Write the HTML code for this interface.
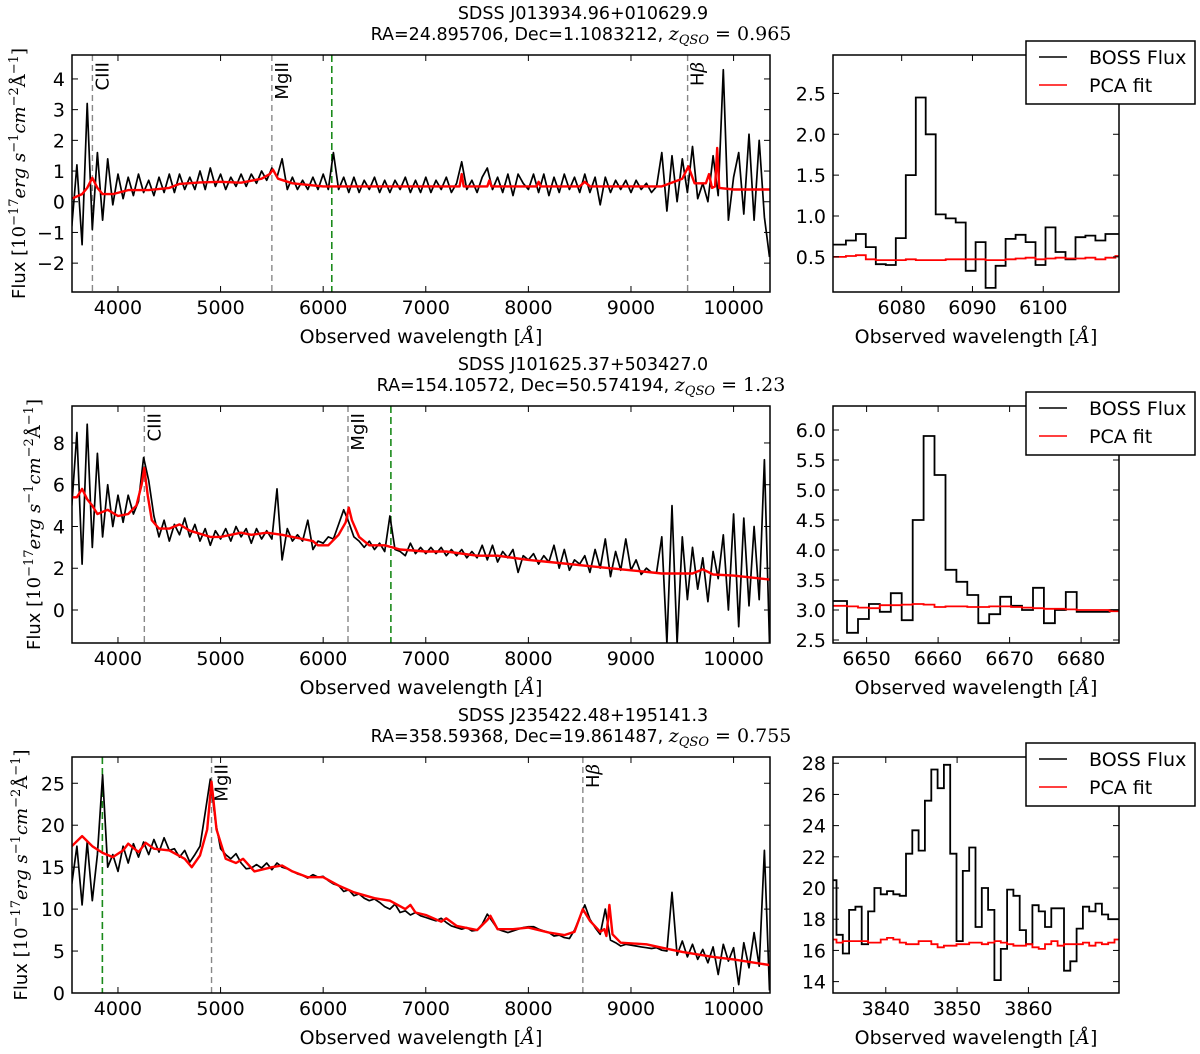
<!DOCTYPE html>
<html><head><meta charset="utf-8"><style>
body{margin:0;background:#fff}
svg text{font-family:"DejaVu Sans","Liberation Sans",sans-serif}
.sf{font-family:"DejaVu Serif","Liberation Serif",serif}
</style></head><body>
<svg id="fig" xmlns="http://www.w3.org/2000/svg" width="1200" height="1049" viewBox="0 0 1200 1049"></svg>
<script>
// ---------- data ----------
const gridStart = 3550, gridStep = 50;
const p1Black = [-0.8,1.2,-1.4,3.2,-0.9,1.6,-0.6,1.4,-0.1,0.9,
0.1,0.8,0.2,0.9,0.3,0.7,0.2,0.8,0.3,0.9,
0.3,0.9,0.4,0.8,0.4,1.0,0.4,1.1,0.5,0.9,
0.4,0.8,0.5,0.9,0.5,0.9,0.6,1.0,0.7,1.1,
0.8,1.4,0.4,0.8,0.4,0.7,0.4,0.8,0.4,0.9,
0.4,1.6,0.4,0.8,0.3,0.8,0.3,0.7,0.4,0.8,
0.3,0.7,0.3,0.7,0.4,0.8,0.3,0.7,0.3,0.8,
0.3,0.7,0.4,0.8,0.3,0.6,1.3,0.4,0.7,0.3,
0.8,1.1,0.4,0.8,0.3,0.9,0.2,0.9,0.6,0.4,
0.9,0.3,0.9,0.2,0.8,0.3,0.9,0.4,0.8,0.3,
0.9,0.3,0.8,-0.1,0.8,0.3,0.7,0.4,0.7,0.3,
0.7,0.4,0.6,0.3,0.5,1.6,-0.3,1.5,0.0,1.4,
0.3,1.8,0.1,0.6,0.0,1.5,0.2,4.3,-0.6,0.8,
1.6,-0.4,2.2,-0.6,2.0,-0.5,-1.8];
const p1RedW = [3550,3650,3700,3750,3800,3850,3950,4100,4300,4500,4600,4800,5000,5200,5400,5480,5510,5560,5700,6000,6500,7000,7330,7350,7370,7600,7620,7640,8080,8100,8120,8500,8550,8600,9300,9500,9560,9620,9730,9760,9790,9820,9840,9860,10000,10365];
const p1RedF = [0.1,0.25,0.45,0.78,0.45,0.25,0.25,0.38,0.38,0.45,0.58,0.63,0.65,0.62,0.75,0.9,1.05,0.75,0.6,0.5,0.5,0.5,0.5,0.9,0.5,0.5,0.7,0.5,0.5,0.65,0.5,0.5,0.65,0.5,0.5,0.75,1.15,0.6,0.6,0.9,0.45,0.5,1.75,0.45,0.4,0.4];
const p2Black = [5,8.5,2.2,8.9,3.0,7.5,3.5,6.0,4.0,5.5,
4.2,5.5,4.6,5.2,7.3,6.2,4.5,3.5,4.3,3.3,
4.1,3.6,4.4,3.5,4.1,3.3,3.9,3.1,3.8,3.4,
3.9,3.3,4.0,3.5,3.9,3.2,3.9,3.4,3.8,3.4,
5.8,2.4,3.9,3.3,3.6,3.3,4.3,2.9,3.3,3.2,
3.5,3.4,4.1,4.8,4.2,3.5,3.3,3.0,3.3,2.9,
3.2,2.8,4.5,2.9,2.8,2.6,3.2,2.7,3.0,2.7,
3.0,2.7,3.0,2.6,2.9,2.6,2.9,2.5,2.8,2.5,
3.1,2.4,3.1,2.3,2.8,2.5,2.9,1.8,2.6,2.4,
2.7,2.2,2.6,2.3,3.1,2.0,2.9,1.9,2.4,2.2,
2.6,1.8,2.9,2.0,3.4,1.6,2.8,1.9,3.4,1.9,
2.4,1.7,2.0,1.8,1.8,3.5,-1.6,5.0,-1.6,3.5,
0.5,3.0,1.0,2.5,0.4,2.8,1.5,3.6,0.0,4.6,
-0.8,4.4,0.2,4.0,0.5,7.2,-1.6];
const p2RedW = [3550,3600,3650,3700,3750,3800,3900,4000,4100,4180,4230,4257,4290,4330,4400,4500,4600,4700,4900,5000,5200,5300,5450,5600,5800,5900,5950,6050,6150,6220,6250,6280,6350,6450,6600,6750,7000,7200,7500,7700,8000,8300,8600,9000,9300,9600,9700,9800,10000,10365];
const p2RedF = [5.4,5.4,5.8,5.3,5.0,4.6,4.8,4.5,4.6,5.0,6.0,6.8,5.5,4.3,3.9,3.9,4.1,3.8,3.5,3.5,3.7,3.6,3.7,3.6,3.4,3.3,3.1,3.1,3.6,4.2,4.9,4.3,3.5,3.1,3.1,2.9,2.8,2.8,2.6,2.6,2.4,2.25,2.1,1.9,1.75,1.75,1.95,1.7,1.65,1.45];
const p3Black = [13,17.5,10.5,18,11,16.5,26,15,16.5,14.5,
17.5,15.5,17.8,16.2,18.0,16.5,18.3,16.8,18.5,17.0,
17.2,16.2,17.0,15.6,16.5,17.5,21.5,25.5,20.5,17.2,
16.5,16.0,16.6,15.5,14.8,14.9,15.3,14.9,15.5,14.7,
15.5,15.0,14.8,14.5,14.2,14.0,13.7,14.1,13.8,13.9,
13.4,13.0,12.8,12.1,12.3,11.6,11.8,11.3,11.0,11.2,
10.8,10.3,10.0,10.6,9.6,9.8,9.3,9.6,9.2,9.0,
8.8,8.6,8.9,8.4,8.0,7.8,7.6,7.8,7.4,7.5,
8.2,9.4,8.5,7.6,7.4,7.2,7.4,7.6,7.8,7.9,
7.9,7.6,7.4,7.2,6.8,6.9,6.6,6.5,7.5,9.0,
10.5,8.8,7.8,7.0,10.0,6.3,6.0,5.6,5.8,5.7,
5.6,5.5,5.4,5.3,5.4,5.1,5.0,12.0,4.5,6.2,
4.3,5.8,4.0,5.2,3.6,5.5,2.2,5.8,3.8,5.4,
1.0,6.0,3.0,7.2,3.2,17.0,0.3];
const p3RedW = [3550,3650,3750,3850,3950,4050,4100,4200,4270,4350,4500,4650,4720,4800,4870,4912,4960,5050,5150,5220,5330,5500,5600,5700,5850,6000,6150,6300,6500,6650,6800,6850,6900,7000,7150,7200,7300,7500,7600,7630,7700,7850,8000,8200,8350,8450,8530,8600,8700,8740,8760,8790,8820,8900,9150,9300,9500,9800,10000,10365];
const p3RedF = [17.5,18.7,17.5,16.7,16.2,17.0,17.8,16.8,17.9,17.2,17.0,16.0,15.0,16.4,19.5,25.2,19.5,16.0,15.5,16.0,14.5,15.0,15.2,14.5,13.8,13.8,12.8,12.0,11.3,11.0,10.0,10.5,9.6,9.3,8.5,8.9,8.0,7.5,8.7,9.2,7.6,7.6,7.8,7.2,6.9,7.3,10.0,8.6,7.3,7.6,6.8,10.5,7.0,6.0,5.8,5.4,4.9,4.3,4.0,3.3];
// zoom (binned) data
const z1Start = 6069.3, z1Bin = 1.41;
const z1Black = [0.65,0.65,0.7,0.78,0.62,0.41,0.40,0.73,1.5,2.45,2.0,1.02,0.97,0.92,0.33,0.68,0.12,0.39,0.72,0.77,0.68,0.4,0.86,0.56,0.47,0.74,0.76,0.7,0.78,0.78];
const z1Red = [0.5,0.5,0.51,0.52,0.47,0.46,0.46,0.46,0.47,0.46,0.46,0.46,0.47,0.47,0.47,0.47,0.46,0.46,0.47,0.48,0.49,0.47,0.48,0.49,0.48,0.48,0.49,0.47,0.49,0.51];
const z2Start = 6644.2, z2Bin = 1.53;
const z2Black = [3.15,3.15,2.62,2.85,3.1,2.97,3.28,2.83,4.5,5.9,5.25,3.67,3.47,3.25,2.78,2.93,3.22,3.07,3.0,3.37,2.78,3.0,3.3,2.97,2.97,2.97,3.0,3.0];
const z2Red = [3.07,3.07,3.06,3.04,3.03,3.08,3.08,3.09,3.1,3.09,3.05,3.06,3.06,3.05,3.05,3.06,3.06,3.05,3.04,3.03,3.02,3.02,3.01,3.0,3.0,3.0,2.98,2.97];
const z3Start = 3832.2, z3Bin = 0.886;
const z3Black = [20.5,17,15.8,18.6,18.8,16.4,18.5,20,19.6,19.8,19.6,19.5,22.2,23.7,22.4,25.6,27.6,26.4,27.9,22.2,16.6,21.1,22.6,17.5,20,18.6,14.1,16.1,19.9,19.5,17.3,16.4,18.9,18.5,17.5,18.7,18.7,14.7,15.3,17.4,18.8,18.5,19.0,18.3,18.0,18.0];
const z3Red = [16.7,16.5,16.6,16.6,16.6,16.6,16.5,16.5,16.7,16.8,16.7,16.5,16.4,16.4,16.6,16.6,16.4,16.2,16.3,16.3,16.4,16.4,16.5,16.5,16.4,16.5,16.6,16.5,16.4,16.3,16.3,16.4,16.2,16.1,16.4,16.6,16.3,16.4,16.4,16.4,16.5,16.3,16.5,16.4,16.5,16.7];
const mainXTicks = [4000,5000,6000,7000,8000,9000,10000];
const p1YTicks = [-2,-1,0,1,2,3,4];
const p2YTicks = [0,2,4,6,8];
const p3YTicks = [0,5,10,15,20,25];
const z1XTicks = [6080,6090,6100];
const z1YTicks = [0.5,1.0,1.5,2.0,2.5];
const z2XTicks = [6650,6660,6670,6680];
const z2YTicks = [2.5,3.0,3.5,4.0,4.5,5.0,5.5,6.0];
const z3XTicks = [3840,3850,3860];
const z3YTicks = [14,16,18,20,22,24,26,28];
const titles1 = ["SDSS J013934.96+010629.9","SDSS J101625.37+503427.0","SDSS J235422.48+195141.3"];
const coords = ["RA=24.895706, Dec=1.1083212, ","RA=154.10572, Dec=50.574194, ","RA=358.59368, Dec=19.861487, "];
const redshifts = ["0.965","1.23","0.755"];
const p1Lines = [["CIII",3751],["MgII",5500],["Hβ",9552]];
const p2Lines = [["CIII",4257],["MgII",6242]];
const p3Lines = [["MgII",4912],["Hβ",8531]];
const greenW = [6084,6660,3848];

// ---------- drawing ----------
const NS = "http://www.w3.org/2000/svg";
const svg = document.getElementById('fig');
const TF = 19;
function mk(tag, attrs, parent){
  const e = document.createElementNS(NS, tag);
  for (const k in attrs) e.setAttribute(k, attrs[k]);
  (parent||svg).appendChild(e);
  return e;
}
function scale(d0,d1,r0,r1){ return v => r0 + (v-d0)/(d1-d0)*(r1-r0); }
let clipId = 0;

function axesFrame(g, L, R, T, B, xs, ys, xt, yt, fmt){
  for (const t of xt){
    const X = xs(t);
    const a = mk('line',{x1:X,x2:X,y1:B,y2:B-6,stroke:'#000','stroke-width':1},g);
    
    
    const b = mk('line',{x1:X,x2:X,y1:T,y2:T+6,stroke:'#000','stroke-width':1},g);
    
    
    const tx = mk('text',{x:X,y:B+22,'text-anchor':'middle','font-size':TF},g);
    tx.textContent = t;
    
    
  }
  for (const t of yt){
    const Y = ys(t);
    const a = mk('line',{x1:L,x2:L+6,y1:Y,y2:Y,stroke:'#000','stroke-width':1},g);
    
    
    const b = mk('line',{x1:R,x2:R-6,y1:Y,y2:Y,stroke:'#000','stroke-width':1},g);
    
    
    const tx = mk('text',{x:L-7,y:Y+7,'text-anchor':'end','font-size':TF},g);
    tx.textContent = fmt(t).replace('-','\u2212');
    
    
  }
  const f = mk('rect',{x:L,y:T,width:R-L,height:B-T,fill:'none',stroke:'#000','stroke-width':1.5},g);
  
  
  const xl = mk('text',{x:(L+R)/2,y:B+51,'text-anchor':'middle','font-size':TF},g);
  xl.innerHTML = 'Observed wavelength [<tspan class="sf" font-style="italic">Å</tspan>]';
  
  
}
function clip(g,L,R,T,B){
  const id = 'c'+(clipId++);
  const cp = mk('clipPath',{id:id},g);
  mk('rect',{x:L,y:T,width:R-L,height:B-T},cp);
  const cg = mk('g',{'clip-path':'url(#'+id+')'},g);
  return cg;
}

function drawPanel(i, T, B, yd, yt, black, redW, redF, lines, zStart, zBin, zBlack, zRed, zxd, zyd, zxt, zyt, ylabX){
  const L = 72, R = 770, ZL = 833, ZR = 1119;
  const g = mk('g',{});
  
  
  const t1 = mk('text',{x:583,y:T-36,'text-anchor':'middle','font-size':17.5},g);
  t1.textContent = titles1[i];
  
  
  const t2 = mk('text',{x:581,y:T-15,'text-anchor':'middle','font-size':17.5},g);
  t2.innerHTML = coords[i] + '<tspan class="sf" font-style="italic" font-size="19">z</tspan><tspan class="sf" font-style="italic" font-size="13" dy="4">QSO</tspan><tspan class="sf" font-size="19" dy="-4"> = ' + redshifts[i] + '</tspan>';
  
  
  const xs = scale(3552,10355,L,R), ys = scale(yd[0],yd[1],B,T);
  const cg = clip(g,L,R,T,B);
  for (const [name,w] of lines){
    const X = xs(w);
    const ln = mk('line',{x1:X,x2:X,y1:T,y2:B,stroke:'#888','stroke-width':1.4,'stroke-dasharray':'6,4'},cg);
    
    
  }
  const gx = xs(greenW[i]);
  const gl = mk('line',{x1:gx,x2:gx,y1:T,y2:B,stroke:'#1a8a1a','stroke-width':1.6,'stroke-dasharray':'7,4'},cg);
  
  
  let pts = black.map((v,k)=>xs(gridStart+gridStep*k).toFixed(1)+','+ys(v).toFixed(1)).join(' ');
  const bl = mk('polyline',{points:pts,fill:'none',stroke:'#000','stroke-width':1.7,'stroke-linejoin':'round'},cg);
  
  
  pts = redW.map((w,k)=>xs(w).toFixed(1)+','+ys(redF[k]).toFixed(1)).join(' ');
  const rl = mk('polyline',{points:pts,fill:'none',stroke:'#f00','stroke-width':2.4,'stroke-linejoin':'round'},cg);
  
  
  for (const [name,w] of lines){
    const X = xs(w);
    const lt = mk('text',{x:0,y:0,'text-anchor':'end','font-size':18,transform:'translate('+(X+16)+','+(T+7)+') rotate(-90)'},g);
    if (name === 'Hβ') lt.innerHTML = 'H<tspan class="sf" font-style="italic">β</tspan>';
    else lt.textContent = name;
    
    
  }
  axesFrame(g,L,R,T,B,xs,ys,mainXTicks,yt,v=>String(v));
  const cy = (T+B)/2;
  const yl = mk('text',{x:0,y:0,'text-anchor':'middle','font-size':18,transform:'translate('+ylabX+','+cy+') rotate(-90)'},g);
  yl.innerHTML = 'Flux [<tspan class="sf">10</tspan><tspan class="sf" font-size="13" dy="-7">−17</tspan><tspan class="sf" font-style="italic" dy="7">erg s</tspan><tspan class="sf" font-size="13" dy="-7">−1</tspan><tspan class="sf" font-style="italic" dy="7">cm</tspan><tspan class="sf" font-size="13" dy="-7">−2</tspan><tspan class="sf" dy="7">Å</tspan><tspan class="sf" font-size="13" dy="-7">−1</tspan><tspan class="sf" dy="7">]</tspan>';
  
  
  const zx = scale(zxd[0],zxd[1],ZL,ZR), zy = scale(zyd[0],zyd[1],B,T);
  const zg = clip(g,ZL,ZR,T,B);
  function stepPath(vals){
    let d = 'M'+zx(zStart).toFixed(1)+','+zy(vals[0]).toFixed(1);
    vals.forEach((v,k)=>{
      if (k>0) d += 'V'+zy(v).toFixed(1);
      d += 'H'+zx(zStart+zBin*(k+1)).toFixed(1);
    });
    return d;
  }
  const zb = mk('path',{d:stepPath(zBlack),fill:'none',stroke:'#000','stroke-width':1.8},zg);
  
  
  const zr = mk('path',{d:stepPath(zRed),fill:'none',stroke:'#f00','stroke-width':1.8},zg);
  
  
  axesFrame(g,ZL,ZR,T,B,zx,zy,zxt,zyt,v=>Number.isInteger(v)&&zyd[1]<10?v.toFixed(1):String(v));
  const lg = mk('g',{},g);
  
  
  const lb = mk('rect',{x:1026,y:T-14,width:169,height:63,fill:'#fff',stroke:'#000','stroke-width':1.5},lg);
  
  
  const e1 = mk('line',{x1:1039,x2:1067,y1:T+2,y2:T+2,stroke:'#000','stroke-width':1.6},lg);
  
  
  const e2 = mk('line',{x1:1039,x2:1067,y1:T+30,y2:T+30,stroke:'#f00','stroke-width':1.6},lg);
  
  
  const l1 = mk('text',{x:1089,y:T+9,'font-size':TF},lg);
  l1.textContent = 'BOSS Flux';
  
  
  const l2 = mk('text',{x:1089,y:T+37,'font-size':TF},lg);
  l2.textContent = 'PCA fit';
  
  
}

drawPanel(0,55,292,[-2.94,4.78],p1YTicks,p1Black,p1RedW,p1RedF,p1Lines,z1Start,z1Bin,z1Black,z1Red,[6070.3,6110.7],[0.07,2.97],z1XTicks,z1YTicks,25);
drawPanel(1,406,643,[-1.58,9.77],p2YTicks,p2Black,p2RedW,p2RedF,p2Lines,z2Start,z2Bin,z2Black,z2Red,[6645.3,6685.3],[2.45,6.4],z2XTicks,z2YTicks,40);
drawPanel(2,757,993,[0,28.13],p3YTicks,p3Black,p3RedW,p3RedF,p3Lines,z3Start,z3Bin,z3Black,z3Red,[3832.6,3872.7],[13.27,28.4],z3XTicks,z3YTicks,27);
</script>
</body></html>
